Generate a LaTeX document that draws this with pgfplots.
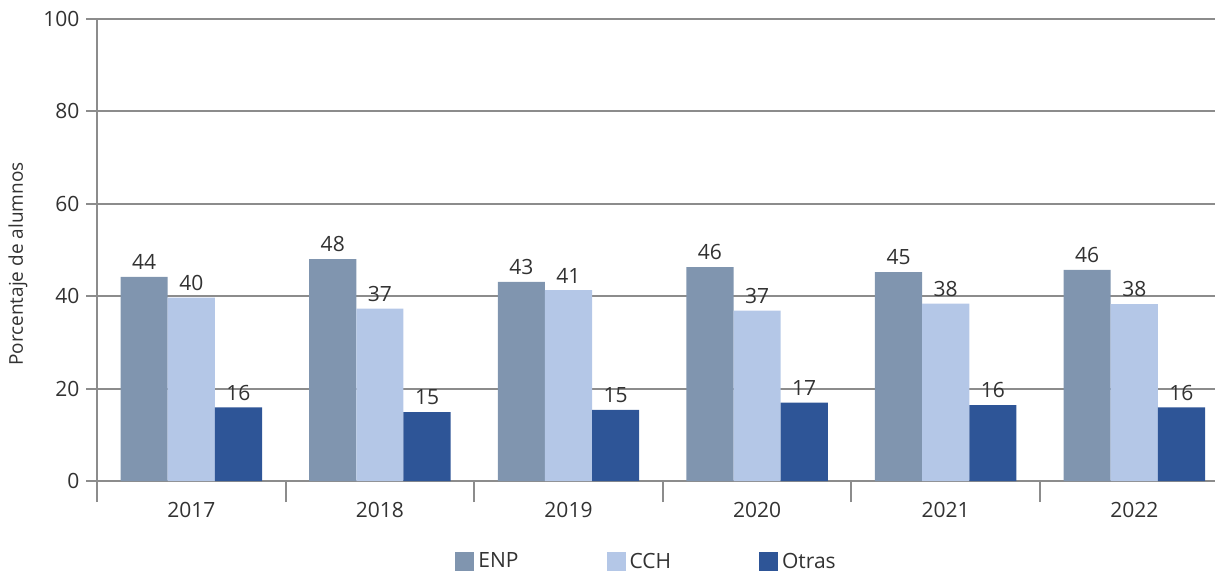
\documentclass[border=0pt]{standalone}
\usepackage{pgfplots}
\pgfplotsset{compat=1.18}
\usepackage{fontspec}
\setmainfont{Open Sans}
\definecolor{enp}{RGB}{128,149,175}
\definecolor{cch}{RGB}{180,199,231}
\definecolor{otras}{RGB}{46,85,151}
\definecolor{gridc}{RGB}{140,140,140}
\definecolor{txt}{RGB}{50,50,50}
\begin{document}
\begin{tikzpicture}
\begin{axis}[
  name=ax,
  scale only axis, width=559pt, height=231pt,
  xmin=-0.5, xmax=5.428, ymin=0, ymax=100,
  axis x line=bottom, axis y line=left,
  axis line style={-, draw=gridc, line width=1pt},
  ytick={0,20,...,100},
  ymajorgrids, grid style={draw=gridc, line width=1pt},
  xtick={-0.5,0.5,...,4.5}, xticklabels={},
  extra x ticks={0,1,2,3,4,5},
  extra x tick labels={2017,2018,2019,2020,2021,2022},
  extra x tick style={major tick length=0pt, grid=none},
  tick align=center, major tick length=10.5pt,
  tick style={draw=gridc, line width=1pt},
  /pgf/number format/assume math mode=true,
  tick label style={font=\fontsize{10.5}{12}\selectfont, text=txt},
  xticklabel style={yshift=-7pt},
  ylabel={Porcentaje de alumnos},
  every axis y label/.style={at={(axis description cs:0,0.5)}, rotate=90, anchor=center, xshift=-7pt, yshift=39.5pt, font=\fontsize{9.5}{11}\selectfont, text=txt},
  ybar, bar width=0.25,
  legend image code/.code={\fill[#1] (0pt,-4.75pt) rectangle (9.5pt,4.75pt);},
  legend style={at={(axis description cs:0.3202,-0.1753)}, anchor=west, draw=none, legend columns=3,
    /tikz/every even column/.append style={column sep=42pt},
    font=\fontsize{10.5}{12}\selectfont, text=txt, inner sep=0pt},
  nodes near coords={\pgfmathprintnumber[fixed,precision=0]{\pgfplotspointmeta}},
  every node near coord/.append style={font=\fontsize{10.5}{12}\selectfont, text=txt},
]
\addplot[draw=none, fill=enp, bar shift=-0.25] coordinates {(0,44.2) (1,48.0) (2,43.1) (3,46.3) (4,45.2) (5,45.7)};
\addplot[draw=none, fill=cch, bar shift=0] coordinates {(0,39.7) (1,37.3) (2,41.3) (3,36.9) (4,38.4) (5,38.3)};
\addplot[draw=none, fill=otras, bar shift=0.25] coordinates {(0,15.95) (1,14.9) (2,15.4) (3,16.95) (4,16.4) (5,15.95)};
\legend{ENP,CCH,Otras}
\end{axis}
\pgfresetboundingbox
\path[use as bounding box] ([xshift=-48.5pt,yshift=-46pt]ax.south west) rectangle ([yshift=9.5pt]ax.north east);
\end{tikzpicture}
\end{document}
